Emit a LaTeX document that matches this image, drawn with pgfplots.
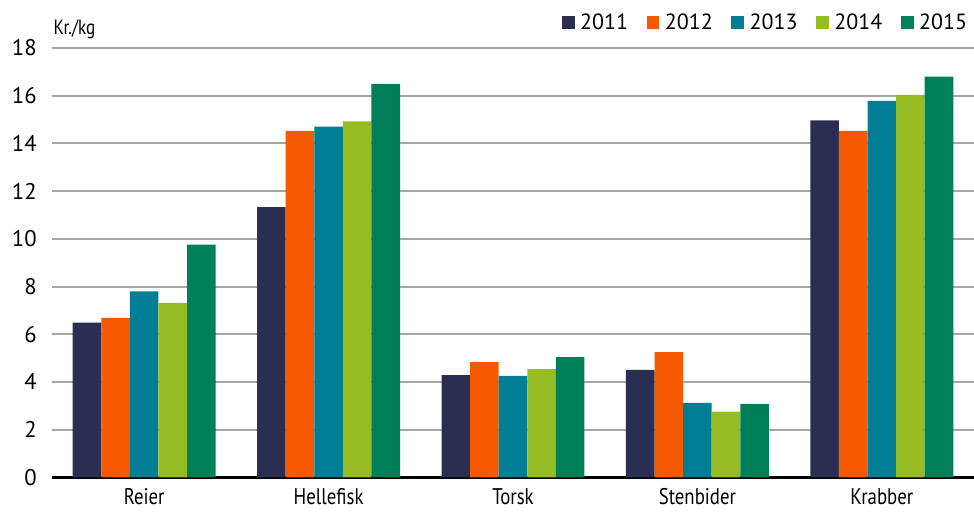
\documentclass[border=0pt]{standalone}
\usepackage{fontspec}
\setmainfont{PT Sans}
\newfontfamily\narrowfont{PT Sans}[FakeStretch=0.83]
\usepackage{pgfplots}
\pgfplotsset{compat=1.18}

\definecolor{c2011}{HTML}{2A2E52}
\definecolor{c2012}{HTML}{F55A00}
\definecolor{c2013}{HTML}{007E96}
\definecolor{c2014}{HTML}{97BC23}
\definecolor{c2015}{HTML}{008059}
\definecolor{gridgray}{HTML}{A6A6A6}

\begin{document}
\begin{tikzpicture}[x=1pt,y=1pt]
\begin{axis}[
    scale only axis,
    width=691.5pt, height=322pt,
    ybar=0pt, bar width=0.155,
    xmin=-0.5, xmax=4.5,
    ymin=0, ymax=18,
    ytick={0,2,...,18},
    xtick=data,
    xticklabels={Reier,Hellefisk,Torsk,Stenbider,Krabber},
    axis y line*=left,
    y axis line style={draw=none},
    axis x line*=bottom,
    x axis line style={line width=2.2pt,-},
    ymajorgrids,
    major grid style={gridgray,line width=1.5pt},
    major tick length=0pt,
    tick label style={font=\fontsize{17}{18}\selectfont},
    /pgf/number format/assume math mode=true,
    yticklabel style={xshift=-8pt},
    xticklabel style={yshift=-5pt,font=\narrowfont\fontsize{17}{18}\selectfont},
    legend style={at={(1,1)},anchor=south east,draw=none,fill=none,
        legend columns=-1,font=\fontsize{16.5}{18}\selectfont,
        /tikz/every odd column/.append style={column sep=2pt},
        /tikz/every even column/.append style={column sep=12pt},
        yshift=8pt},
    legend image code/.code={\fill[#1] (0pt,-4.8pt) rectangle (9.6pt,4.8pt);},
    clip=false,
]
\addplot[fill=c2011,draw=none] coordinates {(0,6.49) (1,11.33) (2,4.29) (3,4.5) (4,14.97)};
\addplot[fill=c2012,draw=none] coordinates {(0,6.69) (1,14.52) (2,4.83) (3,5.25) (4,14.53)};
\addplot[fill=c2013,draw=none] coordinates {(0,7.80) (1,14.70) (2,4.25) (3,3.12) (4,15.78)};
\addplot[fill=c2014,draw=none] coordinates {(0,7.31) (1,14.92) (2,4.54) (3,2.75) (4,16.03)};
\addplot[fill=c2015,draw=none] coordinates {(0,9.76) (1,16.50) (2,5.04) (3,3.08) (4,16.80)};
\legend{2011,2012,2013,2014,2015}
\node[anchor=base west,font=\narrowfont\fontsize{15.5}{16}\selectfont,inner sep=0pt]
    at (rel axis cs:0,1) [yshift=10pt,xshift=1pt] {Kr./kg};
\end{axis}
\pgfresetboundingbox
\path (-39pt,-27pt) rectangle (691.5pt,358pt);
\end{tikzpicture}
\end{document}
